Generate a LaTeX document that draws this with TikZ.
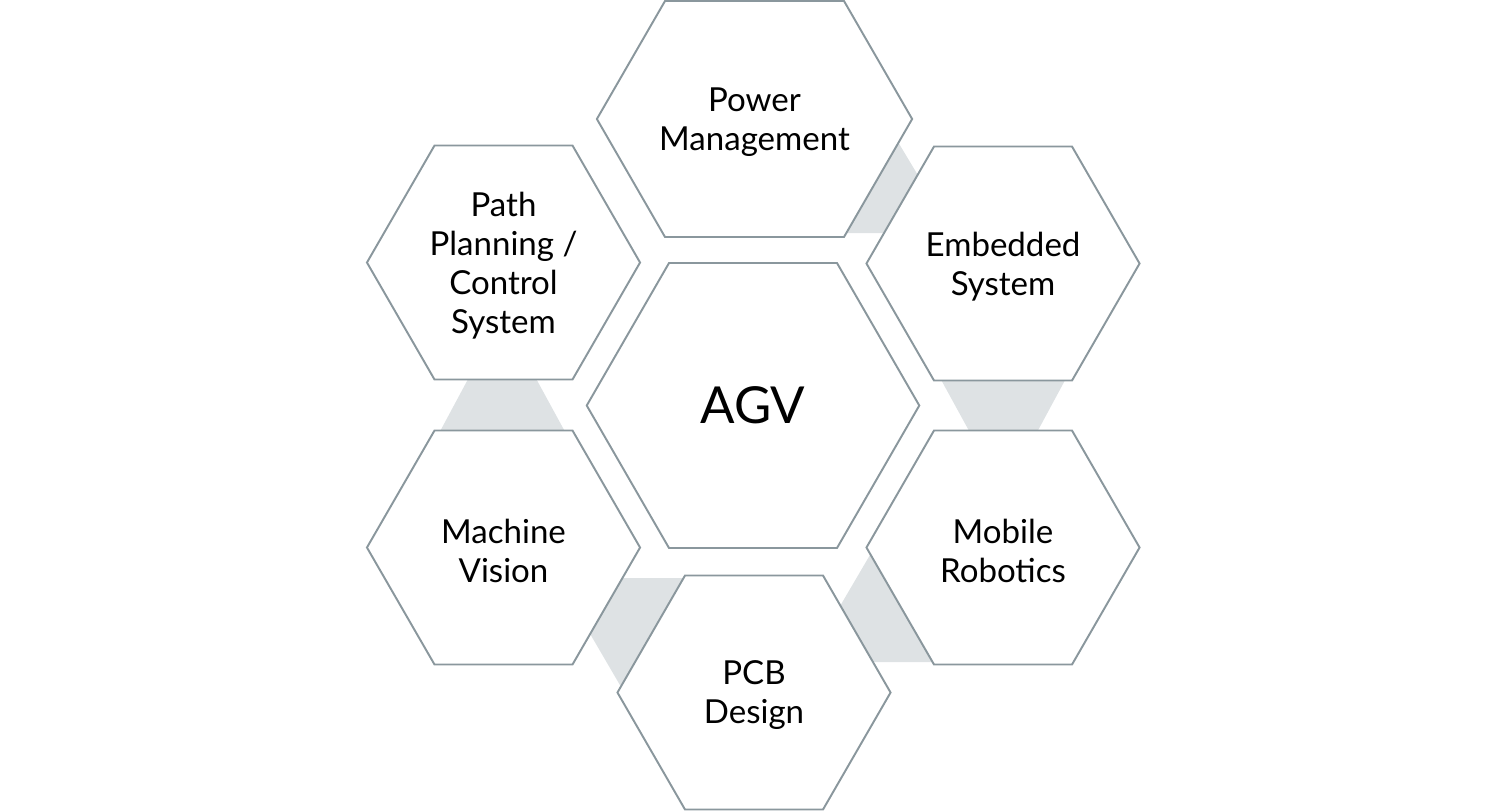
\documentclass[tikz,border=0pt]{standalone}
\usepackage{fontspec}
\setmainfont{Lato}
\usepackage{xcolor}
\usepackage{tikz}
\usetikzlibrary{backgrounds}
\definecolor{hexgray}{RGB}{138,151,157}
\definecolor{gapgray}{RGB}{222,226,228}
\tikzset{
	hexline/.style = {
			draw       = hexgray,
			line width = 0.55pt,
			fill       = white,
		},
	gap/.style = {
			fill = gapgray,
		},
	field/.style = {
			align  = center,
			yshift = -0.85pt,
			font   = \fontsize{9.4}{11.1}\selectfont,
		},
	hub/.style = {
			font = \fontsize{14.5}{17}\selectfont,
		}
}
% hexagon round a point: centre, half top edge, half height
\newcommand{\hexcell}[3]{%
	\draw[hexline] (#1) ++(-#2,-#3) -- ++(2*#2,0) -- ++(0.5774*#3,#3)
	-- ++(-0.5774*#3,#3) -- ++(-2*#2,0) -- ++(-0.5774*#3,-#3) -- cycle;}

\begin{document}
\begin{tikzpicture}[x=0.01cm,y=-0.01cm]
	\useasboundingbox (0,0) rectangle (1507,811);
	% Topics
	\node[hub] (AGV) at (753,405.5) {AGV};
	\node[field] (Power Management) at (754.5,119) {Power\\Management};
	\node[field] (Path Planning) at (503.5,262.5) {Path\\Planning /\\Control\\System};
	\node[field] (Embedded System) at (1003,263.5) {Embedded\\System};
	\node[field] (Machine Vision) at (503.5,547.5) {Machine\\Vision};
	\node[field] (Mobile Robotics) at (1003,547.5) {Mobile\\Robotics};
	\node[field] (PCB Design) at (754,692.5) {PCB\\Design};

	\begin{scope}[on background layer]
		% gaps between the outer cells
		\fill[gap] (880,112) -- (928,192) -- (905,233) -- (830,233) -- cycle;
		\fill[gap] (489,340) -- (515,340) -- (575,450) -- (430,450) -- cycle;
		\fill[gap] (922,345) -- (1084,345) -- (1022,460) -- (985,460) -- cycle;
		\fill[gap] (582,620) -- (600,578) -- (720,578) -- (634.5,710) -- cycle;
		\fill[gap] (884.6,530) -- (826,630) -- (850,662) -- (960,662) -- cycle;

		\hexcell{AGV.center}{84}{142.5}
		\hexcell{[yshift=0.85pt]Power Management.center}{89.5}{118}
		\hexcell{[yshift=0.85pt]Path Planning.center}{69}{117}
		\hexcell{[yshift=0.85pt]Embedded System.center}{69}{117}
		\hexcell{[yshift=0.85pt]Machine Vision.center}{69}{117}
		\hexcell{[yshift=0.85pt]Mobile Robotics.center}{69}{117}
		\hexcell{[yshift=0.85pt]PCB Design.center}{69}{117}
	\end{scope}
\end{tikzpicture}
\end{document}
